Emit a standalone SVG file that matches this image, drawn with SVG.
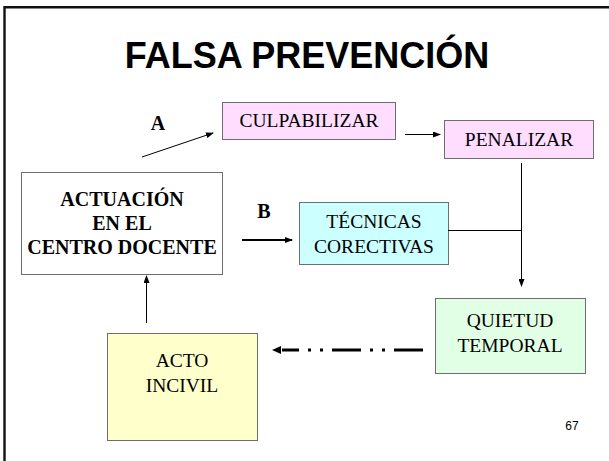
<svg xmlns="http://www.w3.org/2000/svg" width="609" height="461" viewBox="0 0 609 461">
<style>
.box{stroke:#6e6e6e;stroke-width:1}
.t{font-family:"Liberation Serif","Times New Roman",serif;font-size:19.5px;fill:#000;text-anchor:middle}
.b{font-family:"Liberation Serif","Times New Roman",serif;font-size:20px;font-weight:bold;fill:#000;text-anchor:middle}
.ln{stroke:#000;stroke-width:1;fill:none}
</style>
<defs>
<marker id="ah" markerWidth="8" markerHeight="6" refX="7" refY="3" orient="auto" markerUnits="userSpaceOnUse">
<path d="M0,0 L8,3 L0,6 z" fill="#000"/>
</marker>
</defs>
<rect width="609" height="461" fill="#fff"/>
<path d="M4.5,461 V7.2 H609" fill="none" stroke="#111" stroke-width="2.4"/>
<text x="307" y="68" font-family="Liberation Sans,Arial,sans-serif" font-size="36" font-weight="bold" text-anchor="middle">FALSA PREVENCIÓN</text>
<g id="culpabilizar">
<rect class="box" x="222.5" y="102.5" width="173" height="37" fill="#ffddff"/>
<text class="t" x="309" y="127">CULPABILIZAR</text>
</g>
<g id="penalizar">
<rect class="box" x="444.5" y="120.5" width="149" height="38" fill="#ffddff"/>
<text class="t" x="519" y="146">PENALIZAR</text>
</g>
<g id="actuacion">
<rect class="box" x="21.5" y="172.5" width="201" height="102" fill="#fff"/>
<text class="b" x="122" y="206">ACTUACIÓN</text>
<text class="b" x="122" y="230">EN EL</text>
<text class="b" x="122" y="254">CENTRO DOCENTE</text>
</g>
<g id="tecnicas">
<rect class="box" x="299.5" y="202.5" width="149" height="62" fill="#ccffff"/>
<text class="t" x="374" y="228">TÉCNICAS</text>
<text class="t" x="374" y="253">CORECTIVAS</text>
</g>
<g id="quietud">
<rect class="box" x="435.5" y="298.5" width="150" height="75" fill="#e0ffe4"/>
<text class="t" x="510" y="327">QUIETUD</text>
<text class="t" x="510" y="352">TEMPORAL</text>
</g>
<g id="acto">
<rect class="box" x="107.5" y="333.5" width="150" height="107" fill="#ffffcc"/>
<text class="t" x="182" y="367">ACTO</text>
<text class="t" x="182" y="392">INCIVIL</text>
</g>
<g id="labels">
<text class="b" x="158" y="130" font-size="18">A</text>
<text class="b" x="264" y="218" font-size="18">B</text>
<text x="572" y="430" font-family="Liberation Sans,Arial,sans-serif" font-size="12" text-anchor="middle">67</text>
</g>
<g id="connectors">
<line class="ln" x1="142" y1="157" x2="213" y2="133" marker-end="url(#ah)"/>
<line class="ln" x1="405" y1="134.5" x2="440" y2="134.5" marker-end="url(#ah)"/>
<line x1="242" y1="240" x2="292" y2="240" stroke="#000" stroke-width="2" marker-end="url(#ah)"/>
<line class="ln" x1="521.5" y1="163" x2="521.5" y2="286" marker-end="url(#ah)"/>
<line class="ln" x1="448" y1="230.5" x2="521.5" y2="230.5"/>
<line class="ln" x1="146.5" y1="323" x2="146.5" y2="276" marker-end="url(#ah)"/>
<line x1="423" y1="350" x2="282" y2="350" stroke="#000" stroke-width="3" stroke-dasharray="29 9 3 9 3 9"/>
<path d="M272,350 L281,346 L281,354 z" fill="#000"/>
</g>
</svg>
